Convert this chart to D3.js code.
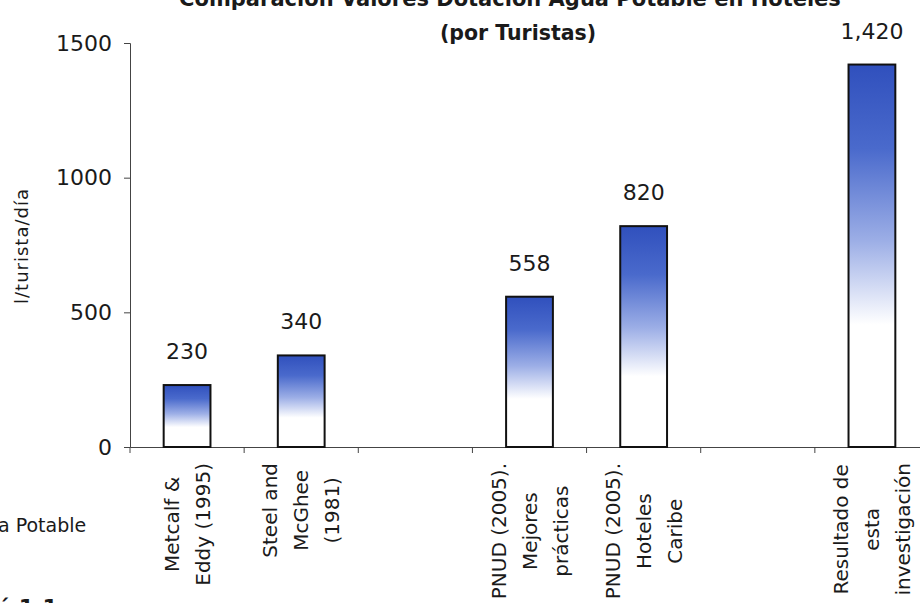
<!DOCTYPE html>
<html>
<head>
<meta charset="utf-8">
<script src="https://cdn.jsdelivr.net/npm/d3@7"></script>
<style>
  body { margin: 0; background: white; }
  text { font-family: "DejaVu Sans", sans-serif; fill: #1a1a1a; }
</style>
</head>
<body>
<div id="chart"></div>
<script>
let width = 920;
let height = 603;

// categories (two blank slots as in the original)
let keys = ["metcalf", "steel", "gap1", "pnudMej", "pnudHot", "gap2", "resultado"];
let catLabels = [
	["Metcalf &", "Eddy (1995)"],
	["Steel and", "McGhee", "(1981)"],
	[],
	["PNUD (2005).", "Mejores", "prácticas"],
	["PNUD (2005).", "Hoteles", "Caribe"],
	[],
	["Resultado de", "esta", "investigación"]
];
let values = [230, 340, null, 558, 820, null, 1420];
let valueLabels = ["230", "340", "", "558", "820", "", "1,420"];
let yTicks = [0, 500, 1000, 1500];

let svg = d3.select("#chart")
	.append("svg")
	.attr("width", width)
	.attr("height", height)
	.style("background-color", "white");

let x = d3.scaleBand().domain(keys).range([130, 929]).paddingInner(0).paddingOuter(0);
let y = d3.scaleLinear().domain([0, 1500]).range([447, 43]);

let defs = svg.append("defs");
let grad = defs.append("linearGradient")
	.attr("id", "barGrad")
	.attr("x1", 0).attr("y1", 0).attr("x2", 0).attr("y2", 1);
grad.append("stop").attr("offset", "0%").attr("stop-color", "#3050bd");
grad.append("stop").attr("offset", "22%").attr("stop-color", "#4a6acc");
grad.append("stop").attr("offset", "46%").attr("stop-color", "#9caee6");
grad.append("stop").attr("offset", "68%").attr("stop-color", "#ffffff");
grad.append("stop").attr("offset", "100%").attr("stop-color", "#ffffff");

// title (top line cut off by the scan)
svg.append("text")
	.attr("x", 510).attr("y", 6)
	.attr("text-anchor", "middle")
	.style("font-size", "21px").style("font-weight", "bold")
	.text("Comparación Valores Dotación Agua Potable en Hoteles");
svg.append("text")
	.attr("x", 518).attr("y", 40)
	.attr("text-anchor", "middle")
	.style("font-size", "20.5px").style("font-weight", "bold")
	.text("(por Turistas)");

// y axis
let yAxis = svg.append("g")
	.attr("transform", "translate(130,0)")
	.call(d3.axisLeft(y).tickValues(yTicks).tickSize(6).tickPadding(12).tickFormat(d3.format("d")));
yAxis.select(".domain").attr("stroke", "#444");
yAxis.selectAll(".tick line").attr("stroke", "#444");
yAxis.selectAll("text").style("font-size", "22px").attr("fill", "#1a1a1a");

// x axis
let xAxis = svg.append("g")
	.attr("transform", "translate(0,447)")
	.call(d3.axisBottom(x).tickSize(0).tickFormat(""));
xAxis.select(".domain").attr("stroke", "#444");
xAxis.selectAll(".tick").remove();
xAxis.selectAll(".sep")
	.data(keys)
	.enter().append("line")
	.attr("x1", d => x(d)).attr("x2", d => x(d))
	.attr("y1", 0).attr("y2", 6)
	.attr("stroke", "#444");

svg.append("text")
	.attr("transform", "translate(28,246) rotate(-90)")
	.attr("text-anchor", "middle")
	.style("font-size", "18px")
	.style("letter-spacing", "1px")
	.text("l/turista/día");

// bars
let bw = x.bandwidth() * 0.41;
let data = keys.map((k, i) => ({key: k, value: values[i], label: valueLabels[i], cat: catLabels[i]}));

svg.append("g").selectAll("rect")
	.data(data.filter(d => d.value != null))
	.enter().append("rect")
	.attr("x", d => x(d.key) + x.bandwidth() / 2 - bw / 2)
	.attr("y", d => y(d.value))
	.attr("width", bw)
	.attr("height", d => y(0) - y(d.value))
	.attr("fill", "url(#barGrad)")
	.attr("stroke", "#111")
	.attr("stroke-width", 2);

svg.append("g").selectAll("text")
	.data(data.filter(d => d.value != null))
	.enter().append("text")
	.attr("x", d => x(d.key) + x.bandwidth() / 2)
	.attr("y", d => y(d.value) - 26)
	.attr("text-anchor", "middle")
	.style("font-size", "22px")
	.text(d => d.label);

// category labels, rotated, lines centred in a block that starts under the axis
let lineGap = 31;
let fs = 20;
data.forEach(function(d) {
	if (!d.cat.length) return;
	let g = svg.append("g");
	let cx = x(d.key) + x.bandwidth() / 2;
	let n = d.cat.length;
	let texts = d.cat.map(function(line, j) {
		return g.append("text")
			.style("font-size", fs + "px")
			.attr("text-anchor", "middle")
			.text(line);
	});
	let maxLen = d3.max(texts, t => t.node().getComputedTextLength());
	let cy = 463 + maxLen / 2;
	texts.forEach(function(t, j) {
		let lx = cx + (j - (n - 1) / 2) * lineGap + fs * 0.35;
		t.attr("transform", "translate(" + lx + "," + cy + ") rotate(-90)");
	});
});

// fragments of the surrounding page caught in the scan
svg.append("text")
	.attr("x", -2).attr("y", 532)
	.style("font-size", "19px")
	.text("a Potable");
svg.append("text")
	.attr("x", -4).attr("y", 615)
	.style("font-size", "22px").style("font-weight", "bold")
	.text("ó 1.1");
</script>
</body>
</html>
